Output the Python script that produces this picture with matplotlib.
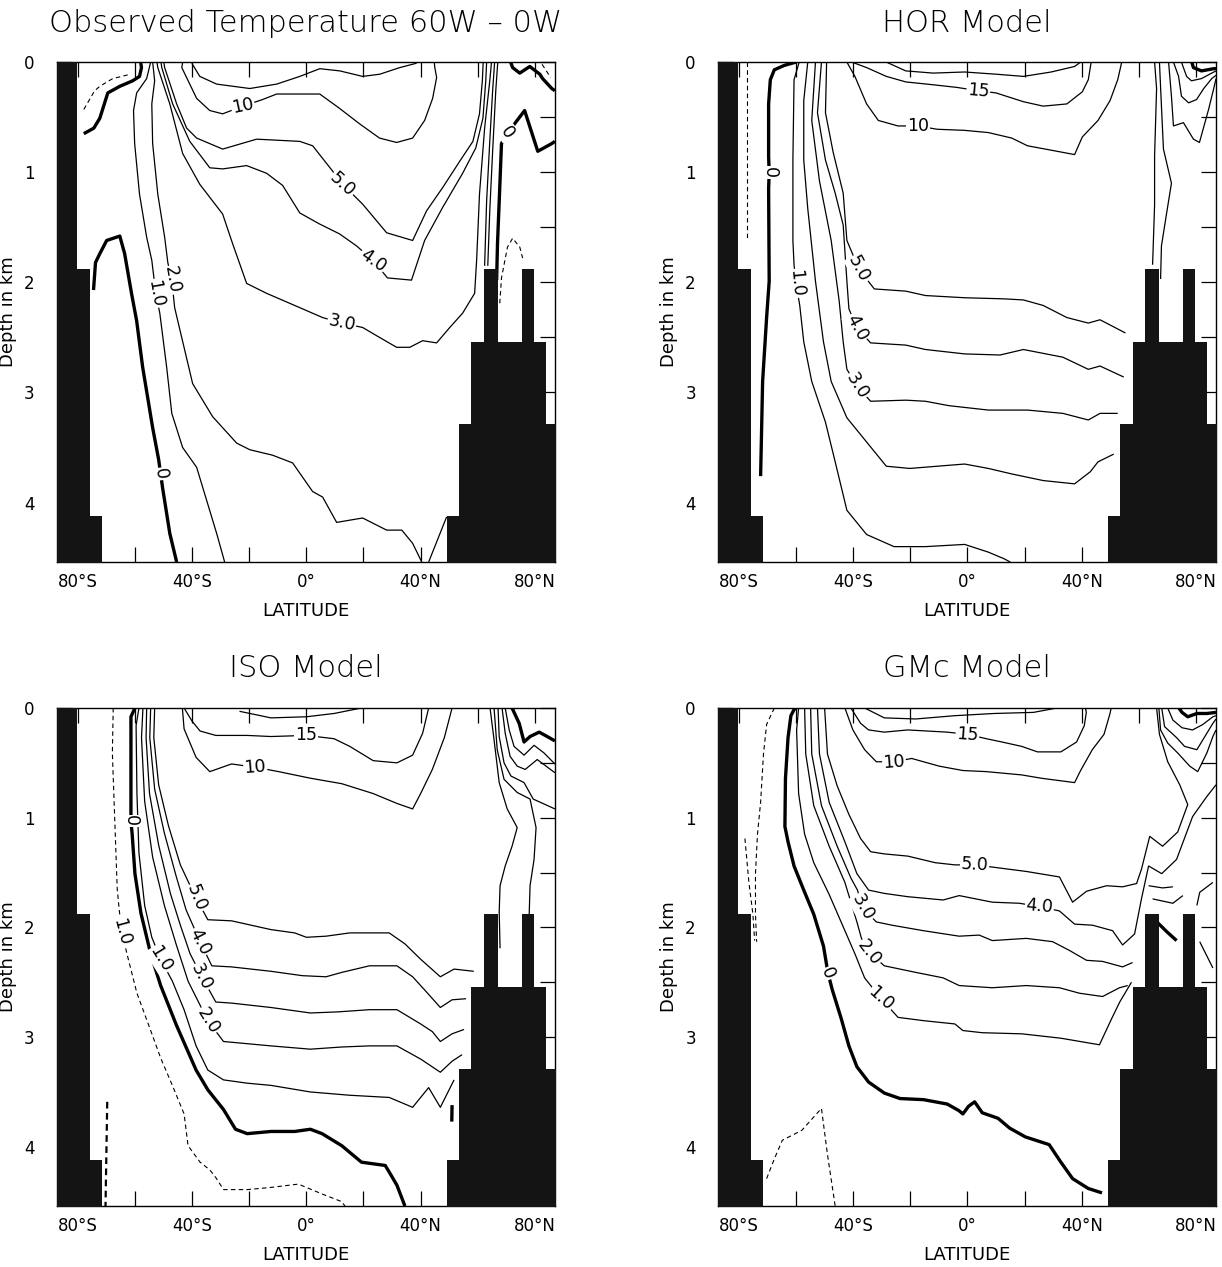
import numpy as np
import matplotlib
matplotlib.use('Agg')
import matplotlib.pyplot as plt

# axes / topography (same model grid for all four panels)
lat_ticks = [-80, -60, -40, -20, 0, 20, 40, 60, 80]
lat_ticklabels = ['80°S', '', '40°S', '', '0°', '', '40°N', '', '80°N']
depth_ticks = [0, 0.5, 1, 1.5, 2, 2.5, 3, 3.5, 4, 4.5]
depth_ticklabels = ['0', '', '1', '', '2', '', '3', '', '4', '']
bathy_edges = [-88.0, -80.3, -75.8, -71.4, 49.1, 53.4, 57.8, 62.2, 67.2, 75.5, 79.7, 84.0, 88.0]
bathy_depth = [0.0, 1.88, 4.12, 4.8, 4.12, 3.29, 2.54, 1.88, 2.54, 1.88, 2.54, 3.29]

# ---------------- Observed ----------------
obs_m1 = [(-77.9, 0.43), (-74.1, 0.26), (-72.3, 0.22), (-67.8, 0.15), (-61.5, 0.11)]
obs_m1b = [(67.7, 2.19), (68.3, 1.96), (70.4, 1.68), (72.2, 1.60), (74.7, 1.68), (75.7, 1.78)]
obs_m1c = [(82.5, 0.02), (85.5, 0.14)]
obs_0a = [(-77.9, 0.65), (-74.4, 0.60), (-72.3, 0.51), (-69.5, 0.28), (-65.3, 0.22), (-60.8, 0.17),
          (-58.4, 0.13), (-57.7, 0.05), (-58.0, 0.0)]
obs_0b = [(-74.5, 2.07), (-73.8, 1.82), (-72.3, 1.74), (-69.9, 1.62), (-65.3, 1.58), (-63.6, 1.74),
          (-61.2, 2.10), (-59.4, 2.35), (-57.3, 2.77), (-53.8, 3.32), (-51.7, 3.61), (-51.0, 3.74),
          (-50.3, 3.87), (-47.8, 4.28), (-45.4, 4.54)]
obs_0c = [(66.6, 1.98), (66.9, 1.65), (67.6, 1.20), (68.3, 0.74), (70.4, 0.64), (72.9, 0.56),
          (76.4, 0.44), (81.0, 0.81), (85.9, 0.74), (87.0, 0.72)]
obs_0d = [(71.5, 0.0), (72.2, 0.05), (74.7, 0.10), (78.2, 0.04), (81.7, 0.11), (82.7, 0.15),
          (85.9, 0.24), (87.0, 0.26)]
obs_1 = [(-54.5, 0.0), (-55.9, 0.15), (-59.4, 0.28), (-60.5, 0.44), (-60.1, 0.74), (-58.4, 1.20),
         (-55.9, 1.59), (-54.1, 1.80), (-52.7, 2.10), (-51.3, 2.28), (-48.9, 2.77), (-47.1, 3.19),
         (-43.3, 3.50), (-38.4, 3.68), (-34.9, 3.98), (-31.4, 4.28), (-28.6, 4.54)]
obs_1r = [(67.0, 0.0), (66.3, 0.26), (65.2, 0.81), (64.2, 1.35), (63.5, 1.85)]
obs_2 = [(-53.8, 0.0), (-53.1, 0.17), (-54.1, 0.38), (-53.8, 0.74), (-52.0, 1.20), (-49.6, 1.59),
         (-48.5, 1.82), (-47.1, 1.98), (-46.1, 2.23), (-39.8, 2.92), (-32.8, 3.22), (-24.4, 3.46),
         (-19.8, 3.52), (-11.8, 3.57), (-4.8, 3.64), (2.2, 3.90), (5.7, 3.95), (10.6, 4.18),
         (19.7, 4.14), (28.1, 4.25), (33.4, 4.25), (37.2, 4.37), (40.4, 4.54)]
obs_2b = [(42.8, 4.54), (49.1, 4.13)]
obs_2r = [(65.9, 0.0), (65.2, 0.26), (64.2, 0.72), (63.1, 1.26), (62.4, 1.85)]
obs_3 = [(-52.3, 0.0), (-52.0, 0.05), (-47.8, 0.38), (-43.3, 0.83), (-37.3, 1.11), (-29.3, 1.38),
         (-25.8, 1.65), (-20.9, 2.01), (-13.9, 2.10), (-2.3, 2.23), (5.7, 2.32), (12.4, 2.37),
         (19.7, 2.41), (25.6, 2.50), (31.6, 2.59), (36.2, 2.59), (40.7, 2.53), (45.6, 2.55),
         (50.2, 2.41), (54.7, 2.28), (58.9, 2.10), (59.6, 1.80), (60.6, 1.20), (62.4, 0.60),
         (64.2, 0.17), (64.8, 0.0)]
obs_4 = [(-50.9, 0.0), (-50.6, 0.05), (-46.8, 0.38), (-40.8, 0.72), (-33.8, 0.96), (-29.3, 0.97),
         (-20.9, 0.94), (-13.9, 1.01), (-8.3, 1.12), (-2.3, 1.37), (4.6, 1.47), (11.6, 1.56),
         (17.6, 1.67), (23.3, 1.80), (28.4, 1.96), (36.8, 1.98), (41.4, 1.62), (47.7, 1.32),
         (54.7, 1.01), (59.3, 0.78), (61.8, 0.51), (62.8, 0.17), (63.1, 0.0)]
obs_5 = [(-49.9, 0.0), (-49.6, 0.05), (-45.4, 0.38), (-41.9, 0.60), (-38.4, 0.69), (-29.3, 0.79),
         (-17.4, 0.70), (-2.3, 0.72), (2.2, 0.76), (9.2, 0.99), (12.7, 1.11), (19.7, 1.29),
         (28.1, 1.55), (37.2, 1.62), (42.1, 1.35), (47.7, 1.14), (53.7, 0.90), (58.3, 0.72),
         (60.6, 0.47), (61.6, 0.17), (61.9, 0.0)]
obs_10 = [(-43.3, 0.0), (-43.6, 0.05), (-38.4, 0.33), (-33.8, 0.44), (-29.3, 0.47), (-22.2, 0.40),
          (-15.3, 0.34), (-10.4, 0.29), (-2.3, 0.29), (4.7, 0.29), (11.6, 0.42), (18.6, 0.56),
          (25.6, 0.69), (31.6, 0.73), (37.2, 0.69), (41.4, 0.53), (44.2, 0.33), (45.6, 0.14),
          (44.9, 0.04), (44.8, 0.0)]
obs_15 = [(-40.1, 0.01), (-37.3, 0.13), (-31.4, 0.20), (-19.8, 0.24), (-10.4, 0.20), (-2.3, 0.13),
          (4.7, 0.06), (11.7, 0.08), (19.7, 0.13), (25.7, 0.11), (32.7, 0.05), (38.6, 0.01)]
obs_labels = [('10', -22.2, 0.40, 12), ('5.0', 12.7, 1.11, -42), ('4.0', 23.3, 1.80, -35),
              ('3.0', 12.4, 2.37, -12), ('2.0', -47.1, 1.98, -80), ('1.0', -52.7, 2.10, -80),
              ('0', -51.0, 3.74, -82), ('0', 70.4, 0.64, -55)]

# ---------------- HOR ----------------
hor_m1 = [(-77.2, 0.0), (-77.2, 1.62)]
hor_0 = [(-60.0, 0.0), (-64.1, 0.03), (-67.6, 0.07), (-69.0, 0.16), (-69.6, 0.38), (-69.6, 0.86),
         (-69.4, 1.0), (-69.6, 1.15), (-69.4, 1.99), (-70.3, 2.32), (-71.7, 2.90), (-72.4, 3.76)]
hor_1 = [(-58.9, 0.0), (-60.7, 0.16), (-61.1, 0.89), (-61.1, 1.62), (-60.7, 1.84), (-60.0, 2.01),
         (-58.7, 2.21), (-57.3, 2.54), (-54.5, 2.90), (-49.7, 3.27), (-46.3, 3.63), (-42.2, 4.07),
         (-35.3, 4.29), (-25.7, 4.40), (-14.7, 4.40), (-1.0, 4.38), (7.3, 4.45), (12.8, 4.51),
         (15.0, 4.54)]
hor_2 = [(-55.9, 0.0), (-57.3, 0.35), (-57.3, 0.89), (-55.9, 1.33), (-53.2, 1.99), (-50.4, 2.54),
         (-47.7, 2.90), (-42.2, 3.23), (-35.3, 3.45), (-28.4, 3.67), (-20.2, 3.69), (-10.6, 3.67),
         (-1.0, 3.65), (7.3, 3.69), (15.5, 3.74), (26.5, 3.80), (37.5, 3.83), (43.0, 3.72),
         (45.7, 3.63), (51.2, 3.56)]
hor_3 = [(-53.2, 0.0), (-54.5, 0.53), (-51.8, 1.08), (-47.7, 1.62), (-44.9, 2.17), (-43.5, 2.54),
         (-42.2, 2.79), (-38.7, 2.94), (-33.9, 3.08), (-21.6, 3.07), (-14.7, 3.08), (-6.5, 3.12),
         (7.3, 3.16), (21.0, 3.16), (33.4, 3.19), (42.3, 3.25), (46.4, 3.19), (52.6, 3.19)]
hor_4 = [(-51.1, 0.0), (-52.5, 0.46), (-49.7, 0.89), (-46.3, 1.19), (-43.5, 1.48), (-42.2, 1.99),
         (-41.5, 2.24), (-38.7, 2.41), (-33.9, 2.55), (-21.6, 2.57), (-14.7, 2.61), (-1.0, 2.65),
         (11.4, 2.66), (19.6, 2.61), (33.4, 2.68), (42.3, 2.79), (46.4, 2.76), (54.7, 2.86)]
hor_5 = [(-49.3, 0.0), (-49.7, 0.46), (-47.0, 0.82), (-43.5, 1.19), (-42.2, 1.62), (-38.0, 1.88),
         (-32.6, 2.06), (-21.6, 2.08), (-14.7, 2.12), (-1.0, 2.14), (12.8, 2.15), (19.6, 2.16),
         (26.5, 2.21), (34.8, 2.32), (42.3, 2.37), (46.4, 2.34), (55.3, 2.46)]
hor_10 = [(-42.2, 0.0), (-39.4, 0.13), (-35.3, 0.38), (-31.2, 0.53), (-24.3, 0.58), (-17.4, 0.58),
          (-10.6, 0.61), (-1.0, 0.62), (7.3, 0.64), (15.5, 0.69), (21.0, 0.76), (29.3, 0.80),
          (37.5, 0.84), (40.2, 0.68), (45.7, 0.53), (49.9, 0.35), (52.6, 0.16), (54.0, 0.0)]
hor_15 = [(-40.5, 0.0), (-35.3, 0.05), (-28.4, 0.13), (-21.6, 0.18), (-10.6, 0.21), (-3.7, 0.23),
          (3.8, 0.26), (10.0, 0.28), (19.6, 0.36), (26.5, 0.40), (34.8, 0.38), (40.2, 0.27),
          (42.3, 0.16), (43.3, 0.0)]
hor_20 = [(-28.4, 0.0), (-21.6, 0.08), (-12.0, 0.10), (-1.0, 0.09), (10.0, 0.11), (19.6, 0.13),
          (29.3, 0.09), (37.5, 0.04), (39.6, 0.0)]
hor_r1 = [(65.5, 0.0), (66.2, 0.24), (65.5, 0.85), (65.5, 1.30), (64.8, 1.84)]
hor_r2 = [(67.2, 0.0), (67.9, 0.40), (68.6, 0.79), (71.4, 1.10), (69.6, 1.39), (67.9, 1.67), (67.6, 1.97)]
hor_r3 = [(70.4, 0.0), (71.4, 0.31), (72.1, 0.58), (75.6, 0.55), (79.1, 0.70), (81.2, 0.73),
          (84.4, 0.43), (86.2, 0.24), (87.0, 0.15)]
hor_r4 = [(72.1, 0.0), (73.9, 0.13), (74.9, 0.31), (77.4, 0.37), (80.2, 0.34), (82.7, 0.24),
          (85.5, 0.15), (87.0, 0.12)]
hor_r5 = [(74.9, 0.0), (76.7, 0.13), (78.4, 0.17), (81.9, 0.15), (85.5, 0.10), (87.0, 0.08)]
hor_r0 = [(78.5, 0.0), (79.1, 0.05), (81.9, 0.08), (86.2, 0.06), (87.0, 0.06)]
hor_labels = [('0', -69.3, 1.0, -90), ('1.0', -60.0, 2.01, -85), ('5.0', -38.0, 1.88, -62),
              ('4.0', -38.7, 2.41, -62), ('3.0', -38.7, 2.94, -58), ('10', -17.4, 0.58, 0),
              ('15', 3.8, 0.26, -5)]

# ---------------- ISO ----------------
iso_m1 = [(-67.6, 0.0), (-67.9, 0.41), (-66.9, 1.14), (-66.2, 1.65), (-65.5, 1.84), (-64.6, 2.04),
          (-62.8, 2.24), (-59.3, 2.60), (-55.2, 2.89), (-51.0, 3.19), (-46.9, 3.44), (-42.8, 3.70),
          (-41.4, 3.99), (-37.2, 4.14), (-33.8, 4.21), (-31.7, 4.28), (-29.0, 4.39), (-20.7, 4.39),
          (-12.4, 4.37), (-2.8, 4.34), (0.0, 4.37), (5.5, 4.43), (12.4, 4.50), (13.5, 4.54)]
iso_m1b = [(-69.7, 3.59), (-70.3, 4.54)]
iso_0 = [(-60.0, 0.0), (-61.4, 0.08), (-61.4, 0.92), (-61.4, 1.03), (-61.0, 1.14), (-60.0, 1.51),
         (-57.9, 1.87), (-54.5, 2.24), (-51.0, 2.53), (-45.5, 2.89), (-38.6, 3.30), (-34.5, 3.48),
         (-29.0, 3.66), (-24.8, 3.84), (-20.7, 3.88), (-12.4, 3.86), (-4.1, 3.86), (1.4, 3.84),
         (5.5, 3.88), (12.4, 3.99), (19.3, 4.14), (27.6, 4.17), (29.0, 4.23), (31.7, 4.35), (34.5, 4.54)]
iso_1 = [(-58.6, 0.0), (-59.6, 0.16), (-59.3, 0.78), (-58.6, 1.32), (-56.6, 1.80), (-54.1, 2.09),
         (-51.0, 2.29), (-46.9, 2.49), (-42.8, 2.75), (-38.6, 3.08), (-34.5, 3.30), (-29.0, 3.39),
         (-20.7, 3.42), (-12.4, 3.44), (1.4, 3.50), (15.2, 3.53), (29.0, 3.55), (37.2, 3.64),
         (42.8, 3.46), (46.9, 3.64), (51.7, 3.39)]
iso_2 = [(-57.2, 0.0), (-57.7, 0.27), (-56.6, 0.85), (-53.8, 1.36), (-49.7, 1.80), (-45.5, 2.16),
         (-41.4, 2.49), (-34.5, 2.85), (-29.0, 3.04), (-20.7, 3.06), (-12.4, 3.08), (1.4, 3.11),
         (12.4, 3.09), (22.1, 3.08), (31.7, 3.08), (40.0, 3.20), (46.9, 3.32), (51.0, 3.22), (54.5, 3.16)]
iso_3 = [(-55.9, 0.0), (-56.1, 0.27), (-54.9, 0.78), (-51.7, 1.25), (-47.6, 1.69), (-44.1, 1.98),
         (-40.7, 2.24), (-36.6, 2.45), (-31.7, 2.68), (-26.2, 2.69), (-12.4, 2.73), (1.4, 2.78),
         (11.0, 2.77), (22.1, 2.75), (31.7, 2.75), (40.0, 2.88), (44.1, 2.95), (46.9, 3.04),
         (51.0, 2.97), (55.2, 2.93)]
iso_4 = [(-54.5, 0.0), (-54.8, 0.27), (-53.1, 0.74), (-49.7, 1.14), (-45.5, 1.54), (-42.1, 1.84),
         (-37.2, 2.13), (-33.1, 2.35), (-26.2, 2.36), (-12.4, 2.40), (-1.4, 2.44), (6.9, 2.45),
         (12.4, 2.41), (22.1, 2.35), (31.7, 2.35), (37.2, 2.45), (41.4, 2.57), (46.9, 2.73),
         (51.0, 2.66), (55.9, 2.65)]
iso_5 = [(-53.1, 0.0), (-53.4, 0.27), (-51.7, 0.70), (-48.3, 1.07), (-44.1, 1.43), (-41.4, 1.58),
         (-38.6, 1.73), (-34.5, 1.93), (-26.2, 1.94), (-12.4, 2.02), (-4.1, 2.05), (0.0, 2.09),
         (6.9, 2.08), (15.2, 2.05), (29.0, 2.05), (34.5, 2.15), (40.0, 2.29), (46.9, 2.45),
         (51.7, 2.38), (58.6, 2.40)]
iso_10 = [(-43.4, 0.0), (-42.8, 0.19), (-38.6, 0.45), (-33.8, 0.58), (-26.2, 0.51), (-17.9, 0.54),
          (-9.7, 0.58), (1.4, 0.64), (12.4, 0.69), (23.4, 0.78), (31.7, 0.87), (37.2, 0.92),
          (40.0, 0.78), (44.1, 0.56), (48.3, 0.27), (51.0, 0.0)]
iso_15 = [(-42.8, 0.0), (-40.0, 0.12), (-37.2, 0.21), (-31.7, 0.25), (-20.7, 0.25), (-12.4, 0.26),
          (0.0, 0.25), (9.7, 0.28), (15.2, 0.35), (23.4, 0.48), (31.7, 0.50), (37.2, 0.43),
          (40.7, 0.23), (42.8, 0.0)]
iso_20 = [(-23.4, 0.03), (-12.4, 0.09), (0.0, 0.08), (9.7, 0.05), (19.3, 0.0)]
iso_r0 = [(72.0, 0.0), (74.5, 0.14), (76.2, 0.31), (78.3, 0.26), (81.5, 0.22), (84.3, 0.26), (87.0, 0.30)]
iso_r1 = [(69.6, 0.0), (71.0, 0.2), (72.7, 0.35), (76.2, 0.43), (79.7, 0.34), (83.2, 0.41), (87.0, 0.51)]
iso_r2 = [(68.5, 0.0), (69.6, 0.23), (71.3, 0.44), (73.8, 0.53), (76.6, 0.56), (80.8, 0.47), (87.0, 0.59)]
iso_r3 = [(67.1, 0.0), (67.5, 0.26), (69.2, 0.50), (71.6, 0.62), (76.2, 0.68), (79.4, 0.83), (87.0, 0.92)]
iso_ra = [(64.3, 0.0), (65.7, 0.29), (67.5, 0.68), (70.3, 0.92), (73.8, 1.09), (72.0, 1.26),
          (69.6, 1.44), (67.8, 1.62), (67.5, 1.86), (67.8, 2.19)]
iso_rb = [(65.7, 0.0), (66.8, 0.38), (69.2, 0.65), (73.8, 0.77), (78.3, 0.83), (80.4, 1.09),
          (79.7, 1.38), (78.3, 1.62), (78.0, 1.88)]
iso_tick = [(51.0, 3.62), (50.9, 3.77)]
iso_labels = [('15', 0.0, 0.25, 0), ('10', -17.9, 0.54, 4), ('0', -61.4, 1.03, -90),
              ('1.0', -64.6, 2.04, -75), ('1.0', -51.0, 2.29, -58), ('5.0', -38.6, 1.73, -68),
              ('4.0', -37.2, 2.13, -63), ('3.0', -36.6, 2.45, -63), ('2.0', -34.5, 2.85, -58)]

# ---------------- GMc ----------------
gmc_m1a = [(-67.6, 0.0), (-70.3, 0.15), (-71.4, 0.42), (-72.4, 0.86), (-73.5, 1.15), (-74.2, 1.51),
           (-74.2, 1.88), (-73.8, 2.13)]
gmc_m1b = [(-77.9, 1.19), (-76.5, 1.59), (-75.1, 1.88), (-74.5, 2.12)]
gmc_m1c = [(-70.3, 4.29), (-67.6, 4.11), (-64.8, 3.94), (-58.0, 3.85), (-51.1, 3.65), (-49.0, 4.07),
           (-46.3, 4.54)]
gmc_0 = [(-60.4, 0.0), (-61.8, 0.07), (-62.8, 0.27), (-63.7, 0.64), (-63.9, 1.08), (-62.8, 1.22),
         (-60.7, 1.44), (-57.3, 1.66), (-53.8, 1.88), (-50.4, 2.17), (-48.8, 2.42), (-47.3, 2.57),
         (-44.2, 2.83), (-41.5, 3.08), (-38.7, 3.27), (-34.6, 3.41), (-29.1, 3.51), (-23.6, 3.56),
         (-15.4, 3.57), (-7.1, 3.61), (-3.0, 3.67), (-1.6, 3.70), (0.4, 3.63), (2.5, 3.59),
         (5.2, 3.69), (10.7, 3.74), (14.8, 3.83), (20.3, 3.91), (28.6, 3.98), (32.7, 4.14),
         (36.8, 4.29), (42.3, 4.38), (47.1, 4.42)]
gmc_1 = [(-59.1, 0.0), (-59.8, 0.2), (-59.1, 0.78), (-57.0, 1.15), (-53.8, 1.41), (-48.4, 1.70),
         (-42.9, 2.03), (-39.4, 2.24), (-36.0, 2.46), (-30.2, 2.65), (-24.3, 2.82), (-15.4, 2.85),
         (-4.4, 2.88), (-1.6, 2.94), (5.2, 2.96), (19.0, 2.97), (32.7, 3.01), (46.2, 3.07),
         (50.5, 2.83), (53.3, 2.68), (57.4, 2.50)]
gmc_2 = [(-57.0, 0.0), (-56.6, 0.42), (-53.8, 0.89), (-48.4, 1.26), (-42.9, 1.59), (-38.7, 1.95),
         (-37.1, 2.10), (-34.3, 2.23), (-29.1, 2.35), (-18.1, 2.41), (-8.5, 2.46), (-2.9, 2.53),
         (8.7, 2.55), (20.6, 2.53), (32.2, 2.55), (39.2, 2.60), (47.3, 2.63), (53.2, 2.55), (56.1, 2.53)]
gmc_3 = [(-54.9, 0.0), (-54.5, 0.42), (-51.1, 0.89), (-45.6, 1.26), (-40.8, 1.55), (-38.5, 1.66),
         (-36.7, 1.82), (-31.9, 1.95), (-26.4, 1.98), (-15.4, 2.03), (-2.9, 2.08), (4.1, 2.07),
         (8.7, 2.12), (20.6, 2.10), (29.8, 2.13), (35.7, 2.21), (41.7, 2.30), (47.3, 2.31),
         (54.3, 2.36), (57.8, 2.32)]
gmc_4 = [(-52.5, 0.0), (-51.8, 0.42), (-48.4, 0.86), (-42.9, 1.22), (-38.7, 1.51), (-34.6, 1.66),
         (-29.1, 1.69), (-20.9, 1.72), (-8.5, 1.75), (-2.9, 1.71), (8.7, 1.77), (18.2, 1.78),
         (25.2, 1.81), (32.2, 1.85), (37.5, 1.97), (43.8, 1.98), (50.8, 2.03), (54.3, 2.16),
         (58.5, 2.06), (60.9, 1.74), (63.4, 1.44), (68.0, 1.51), (73.2, 1.38), (78.8, 0.99),
         (83.7, 0.81), (87.0, 0.70)]
gmc_5 = [(-50.0, 0.0), (-49.0, 0.42), (-45.6, 0.71), (-41.5, 0.97), (-37.4, 1.19), (-33.9, 1.31),
         (-29.1, 1.33), (-20.9, 1.35), (-11.3, 1.41), (-4.4, 1.43), (2.5, 1.43), (8.7, 1.45),
         (20.6, 1.49), (32.2, 1.54), (36.8, 1.77), (41.7, 1.67), (48.7, 1.62), (54.3, 1.63),
         (59.2, 1.60), (60.9, 1.47), (63.8, 1.17), (68.3, 1.26), (73.6, 1.13), (77.1, 0.88),
         (74.3, 0.70), (70.1, 0.49), (67.2, 0.24), (66.2, 0.0)]
gmc_10 = [(-42.9, 0.0), (-40.1, 0.2), (-36.0, 0.38), (-31.9, 0.49), (-25.7, 0.49), (-19.5, 0.46),
          (-15.4, 0.49), (-9.9, 0.53), (-1.6, 0.57), (6.6, 0.58), (19.0, 0.61), (25.8, 0.64),
          (37.5, 0.68), (39.6, 0.57), (43.7, 0.38), (47.8, 0.24), (49.9, 0.05), (50.3, 0.0)]
gmc_15 = [(-40.8, 0.0), (-37.4, 0.14), (-34.6, 0.2), (-29.1, 0.22), (-20.9, 0.2), (-7.1, 0.22),
          (0.0, 0.24), (6.6, 0.28), (12.1, 0.31), (19.0, 0.35), (24.5, 0.40), (32.7, 0.40),
          (38.2, 0.31), (40.9, 0.16), (41.6, 0.04), (41.3, 0.0)]
gmc_20 = [(-36.0, 0.0), (-29.1, 0.09), (-18.1, 0.10), (-4.4, 0.07), (9.3, 0.05), (23.1, 0.04), (31.3, 0.0)]
gmc_r0 = [(74.0, 0.0), (75.1, 0.04), (77.1, 0.08), (80.3, 0.05), (83.8, 0.05), (87.0, 0.04)]
gmc_r2 = [(67.0, 0.0), (67.6, 0.2), (70.1, 0.32), (73.6, 0.41), (77.8, 0.53), (80.6, 0.58),
          (83.8, 0.41), (85.9, 0.26), (87.0, 0.2)]
gmc_r3 = [(68.0, 0.0), (69.0, 0.17), (73.2, 0.27), (76.0, 0.35), (80.3, 0.38), (83.1, 0.26),
          (85.9, 0.14), (87.0, 0.1)]
gmc_r4 = [(70.1, 0.0), (71.9, 0.11), (75.1, 0.18), (78.8, 0.2), (82.4, 0.15), (85.9, 0.08), (87.0, 0.07)]
gmc_s1 = [(63.4, 1.62), (68.3, 1.64), (71.9, 1.63)]
gmc_s2 = [(64.8, 1.74), (71.9, 1.78), (75.4, 1.71)]
gmc_s3 = [(80.3, 1.80), (81.3, 1.68), (85.9, 1.59)]
gmc_s4 = [(81.3, 2.13), (85.9, 2.37)]
gmc_t0 = [(66.3, 1.95), (69.8, 2.04), (73.2, 2.12)]
gmc_labels = [('15', 0.0, 0.24, -4), ('10', -25.7, 0.49, 4), ('5.0', 2.5, 1.43, -3),
              ('4.0', 25.2, 1.81, -5), ('3.0', -36.7, 1.82, -60), ('2.0', -34.3, 2.23, -52),
              ('1.0', -30.2, 2.65, -42), ('0', -48.8, 2.42, -68)]

panels = [
    ('Observed Temperature 60W – 0W',
     [(obs_m1, 'dash'), (obs_m1b, 'dash'), (obs_m1c, 'dash'), (obs_0a, 'thick'), (obs_0b, 'thick'),
      (obs_0c, 'thick'), (obs_0d, 'thick'), (obs_1, 'thin'), (obs_1r, 'thin'), (obs_2, 'thin'),
      (obs_2b, 'thin'), (obs_2r, 'thin'), (obs_3, 'thin'), (obs_4, 'thin'), (obs_5, 'thin'),
      (obs_10, 'thin'), (obs_15, 'thin')], obs_labels),
    ('HOR Model',
     [(hor_m1, 'dash'), (hor_0, 'thick'), (hor_1, 'thin'), (hor_2, 'thin'), (hor_3, 'thin'),
      (hor_4, 'thin'), (hor_5, 'thin'), (hor_10, 'thin'), (hor_15, 'thin'), (hor_20, 'thin'),
      (hor_r1, 'thin'), (hor_r2, 'thin'), (hor_r3, 'thin'), (hor_r4, 'thin'), (hor_r5, 'thin'),
      (hor_r0, 'thick')], hor_labels),
    ('ISO Model',
     [(iso_m1, 'dash'), (iso_m1b, 'dashthick'), (iso_0, 'thick'), (iso_1, 'thin'), (iso_2, 'thin'),
      (iso_3, 'thin'), (iso_4, 'thin'), (iso_5, 'thin'), (iso_10, 'thin'), (iso_15, 'thin'),
      (iso_20, 'thin'), (iso_r0, 'thick'), (iso_r1, 'thin'), (iso_r2, 'thin'), (iso_r3, 'thin'),
      (iso_ra, 'thin'), (iso_rb, 'thin'), (iso_tick, 'thick')], iso_labels),
    ('GMc Model',
     [(gmc_m1a, 'dash'), (gmc_m1b, 'dash'), (gmc_m1c, 'dash'), (gmc_0, 'thick'), (gmc_1, 'thin'),
      (gmc_2, 'thin'), (gmc_3, 'thin'), (gmc_4, 'thin'), (gmc_5, 'thin'), (gmc_10, 'thin'),
      (gmc_15, 'thin'), (gmc_20, 'thin'), (gmc_r0, 'thick'), (gmc_r2, 'thin'), (gmc_r3, 'thin'),
      (gmc_r4, 'thin'), (gmc_s1, 'thin'), (gmc_s2, 'thin'), (gmc_s3, 'thin'), (gmc_s4, 'thin'),
      (gmc_t0, 'thick')], gmc_labels),
]

styles = {
    'thin': dict(color='k', lw=0.9),
    'thick': dict(color='k', lw=2.4),
    'dash': dict(color='k', lw=0.8, ls=(0, (4, 3))),
    'dashthick': dict(color='k', lw=1.6, ls=(0, (3, 2))),
}

plt.rcParams['font.family'] = ['DejaVu Sans']

fig = plt.figure(figsize=(12.22, 12.67), dpi=100)
positions = [[0.0466, 0.5564, 0.4075, 0.3946], [0.5876, 0.5564, 0.4075, 0.3946],
             [0.0466, 0.0481, 0.4075, 0.3931], [0.5876, 0.0481, 0.4075, 0.3931]]

for pos, (title, lines, labels) in zip(positions, panels):
    ax = fig.add_axes(pos)
    for pts, st in lines:
        lat = [p[0] for p in pts]
        dep = [p[1] for p in pts]
        ax.plot(lat, dep, zorder=2, solid_capstyle='butt', **styles[st])

    for txt, la, de, rot in labels:
        ax.text(la, de, txt, rotation=rot, rotation_mode='anchor', ha='center', va='center',
                fontsize=12.5, zorder=4,
                bbox=dict(facecolor='white', edgecolor='none', pad=0.6))

    # land / sea floor
    fill_depth = bathy_depth + [bathy_depth[-1]]
    ax.fill_between(bathy_edges, fill_depth, 6.0, step='post', color='#141414',
                    linewidth=0, zorder=5)

    ax.set_xlim(-87.3, 87.0)
    ax.set_ylim(4.54, 0)
    ax.set_xticks(lat_ticks)
    ax.set_xticklabels(lat_ticklabels)
    ax.set_yticks(depth_ticks)
    ax.set_yticklabels(depth_ticklabels)
    ax.tick_params(axis='x', direction='in', top=True, length=11, width=0.9, pad=8, labelsize=12)
    ax.tick_params(axis='y', direction='in', right=True, length=11, width=0.9, pad=16, labelsize=12)
    for sp in ax.spines.values():
        sp.set_linewidth(1.0)
    ax.set_xlabel('LATITUDE', fontsize=13, labelpad=8)
    ax.set_ylabel('Depth in km', fontsize=13, labelpad=5)
    ax.set_title(title, fontsize=22, pad=22, fontweight='light')

fig.savefig('out.png', dpi=100)
